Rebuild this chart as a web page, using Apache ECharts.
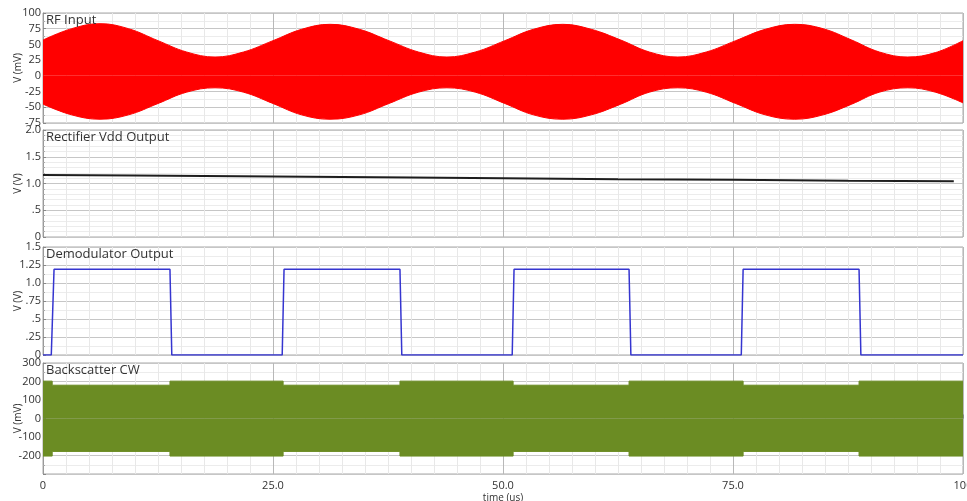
<!DOCTYPE html>
<html>
<head>
<meta charset="utf-8">
<script src="https://cdn.jsdelivr.net/npm/echarts@6/dist/echarts.min.js"></script>
<style>
  html, body { margin: 0; padding: 0; background: #fff; }
  #chart { width: 967px; height: 501px; }
</style>
</head>
<body>
<div id="chart"></div>
<script>
// RF input envelope (mV), read at peaks, troughs and between them
const rfTime = [0, 3.1, 6.2, 9.3, 12.5, 15.6, 18.7, 21.8, 25.0, 28.1, 31.2, 34.4, 37.6, 40.8, 43.9, 47.0,
  50.2, 53.3, 56.5, 59.6, 62.8, 65.9, 69.0, 72.1, 75.3, 78.5, 81.7, 84.8, 87.9, 90.9, 94.0, 97.0, 100];
const rfUpper = [57, 75, 83, 75, 56, 38, 30, 38, 56, 74, 82, 74, 56, 38, 30, 38,
  56, 74, 82, 74, 57, 38, 30, 38, 56, 74, 82, 75, 57, 38, 30, 37, 56];
const rfLower = [-45, -62, -69, -62, -44, -26, -19, -26, -44, -62, -69, -62, -44, -26, -19, -26,
  -44, -62, -69, -62, -45, -26, -19, -26, -44, -62, -69, -62, -45, -26, -19, -26, -43];

// rectifier output (V)
const recTime = [0, 10, 25, 40, 50, 62.5, 75, 87.5, 99];
const recValue = [1.16, 1.15, 1.13, 1.11, 1.10, 1.08, 1.07, 1.05, 1.04];

// demodulator output (V)
const demodTime = [0, 0.9, 1.2, 13.8, 14.0, 26.0, 26.2, 38.8, 39.0, 51.0, 51.2, 63.7, 63.9, 75.9, 76.1, 88.7, 88.9, 100];
const demodValue = [0, 0, 1.19, 1.19, 0, 0, 1.19, 1.19, 0, 0, 1.19, 1.19, 0, 0, 1.19, 1.19, 0, 0];

// backscatter CW envelope (mV), held until next switch time
const bsTime = [0, 1.0, 13.8, 26.1, 38.8, 51.1, 63.7, 76.1, 88.7, 100];
const bsUpper = [202, 180, 202, 180, 202, 180, 202, 180, 202, 202];
const bsLower = [-203, -178, -203, -178, -203, -178, -203, -178, -203, -203];

const titles = ['RF Input', 'Rectifier Vdd Output', 'Demodulator Output', 'Backscatter CW'];
const yNames = ['V (mV)', 'V (V)', 'V (V)', 'V (mV)'];
const yTickLabels = [
  { '100': '100', '75': '75', '50': '50', '25': '25', '0': '0', '-25': '-25', '-50': '-50', '-75': '-75' },
  { '2': '2.0', '1.5': '1.5', '1': '1.0', '0.5': '.5', '0': '0' },
  { '1.5': '1.5', '1.25': '1.25', '1': '1.0', '0.75': '.75', '0.5': '.5', '0.25': '.25', '0': '0' },
  { '300': '300', '200': '200', '100': '100', '0': '0', '-100': '-100', '-200': '-200', '-300': '' }
];
const xTickLabels = { '0': '0', '25': '25.0', '50': '50.0', '75': '75.0', '100': '100' };

const zip = (xs, ys) => xs.map((x, i) => [x, ys[i]]);

const FONT = 'Open Sans';
const gridBoxes = [
  { top: 13, height: 110 },
  { top: 130, height: 107 },
  { top: 247, height: 108 },
  { top: 363, height: 111 }
];
const yRanges = [
  { min: -75, max: 100, interval: 25, minor: 2 },
  { min: 0, max: 2, interval: 0.5, minor: 5 },
  { min: 0, max: 1.5, interval: 0.25, minor: 2 },
  { min: -300, max: 300, interval: 100, minor: 2 }
];

const chart = echarts.init(document.getElementById('chart'));

const option = {
  animation: false,
  backgroundColor: '#fff',
  title: titles.map((t, i) => ({
    text: t,
    left: 46,
    top: gridBoxes[i].top + 1,
    padding: 0,
    textStyle: { fontFamily: FONT, fontSize: 13, fontWeight: 'normal', color: '#333' }
  })),
  grid: gridBoxes.map(b => ({
    left: 43,
    right: 4,
    top: b.top,
    height: b.height,
    containLabel: false,
    outerBoundsMode: 'none',
    show: true,
    borderColor: '#a8a8a8',
    borderWidth: 1
  })),
  xAxis: gridBoxes.map((b, i) => ({
    type: 'value',
    gridIndex: i,
    min: 0,
    max: 100,
    interval: 25,
    name: i === 3 ? 'time (us)' : '',
    nameLocation: 'middle',
    nameGap: 19,
    nameMoveOverlap: false,
    nameTextStyle: { fontFamily: FONT, fontSize: 10, color: '#333' },
    axisLine: { show: false },
    axisTick: { show: i === 3, inside: true, length: 4, lineStyle: { color: '#888' } },
    minorTick: { show: i === 3, splitNumber: 10, length: 2, lineStyle: { color: '#999' } },
    axisLabel: {
      show: i === 3,
      fontFamily: FONT,
      fontSize: 11,
      color: '#333',
      margin: 6,
      formatter: v => xTickLabels[String(v)] ?? ''
    },
    splitLine: { show: true, lineStyle: { color: '#b8b8b8' } },
    minorSplitLine: { show: true, lineStyle: { color: '#e8e8e8' } }
  })),
  yAxis: yRanges.map((r, i) => ({
    type: 'value',
    gridIndex: i,
    min: r.min,
    max: r.max,
    interval: r.interval,
    name: yNames[i],
    nameLocation: 'middle',
    nameGap: 20,
    nameMoveOverlap: false,
    nameRotate: 90,
    nameTextStyle: { fontFamily: FONT, fontSize: 10, color: '#333' },
    axisLine: { show: true, lineStyle: { color: '#999' } },
    axisTick: { show: true, inside: true, length: 3, lineStyle: { color: '#888' } },
    minorTick: { show: true, splitNumber: r.minor, length: 2, lineStyle: { color: '#aaa' } },
    axisLabel: {
      fontFamily: FONT,
      fontSize: 11,
      color: '#333',
      margin: 2,
      formatter: v => yTickLabels[i][String(+v.toFixed(4))] ?? ''
    },
    splitLine: { show: true, lineStyle: { color: '#c6c6c6' } },
    minorSplitLine: { show: true, lineStyle: { color: '#ececec' } }
  })),
  series: [
    {
      name: 'RF upper',
      type: 'line',
      xAxisIndex: 0,
      yAxisIndex: 0,
      data: zip(rfTime, rfUpper),
      smooth: 0.4,
      symbol: 'none',
      lineStyle: { color: '#ff0000', width: 1 },
      areaStyle: { color: '#ff0000', opacity: 1 }
    },
    {
      name: 'RF lower',
      type: 'line',
      xAxisIndex: 0,
      yAxisIndex: 0,
      data: zip(rfTime, rfLower),
      smooth: 0.4,
      symbol: 'none',
      lineStyle: { color: '#ff0000', width: 1 },
      areaStyle: { color: '#ff0000', opacity: 1 }
    },
    {
      name: 'Rectifier Vdd',
      type: 'line',
      xAxisIndex: 1,
      yAxisIndex: 1,
      data: zip(recTime, recValue),
      symbol: 'none',
      lineStyle: { color: '#1e1e1e', width: 2 }
    },
    {
      name: 'Demodulator',
      type: 'line',
      xAxisIndex: 2,
      yAxisIndex: 2,
      data: zip(demodTime, demodValue),
      symbol: 'none',
      lineStyle: { color: '#3535d0', width: 1.5 }
    },
    {
      name: 'Backscatter upper',
      type: 'line',
      xAxisIndex: 3,
      yAxisIndex: 3,
      data: zip(bsTime, bsUpper),
      step: 'end',
      symbol: 'none',
      lineStyle: { color: '#6b8c23', width: 1 },
      areaStyle: { color: '#6b8c23', opacity: 1 }
    },
    {
      name: 'Backscatter lower',
      type: 'line',
      xAxisIndex: 3,
      yAxisIndex: 3,
      data: zip(bsTime, bsLower),
      step: 'end',
      symbol: 'none',
      lineStyle: { color: '#6b8c23', width: 1 },
      areaStyle: { color: '#6b8c23', opacity: 1 }
    }
  ]
};

chart.setOption(option);
</script>
</body>
</html>
